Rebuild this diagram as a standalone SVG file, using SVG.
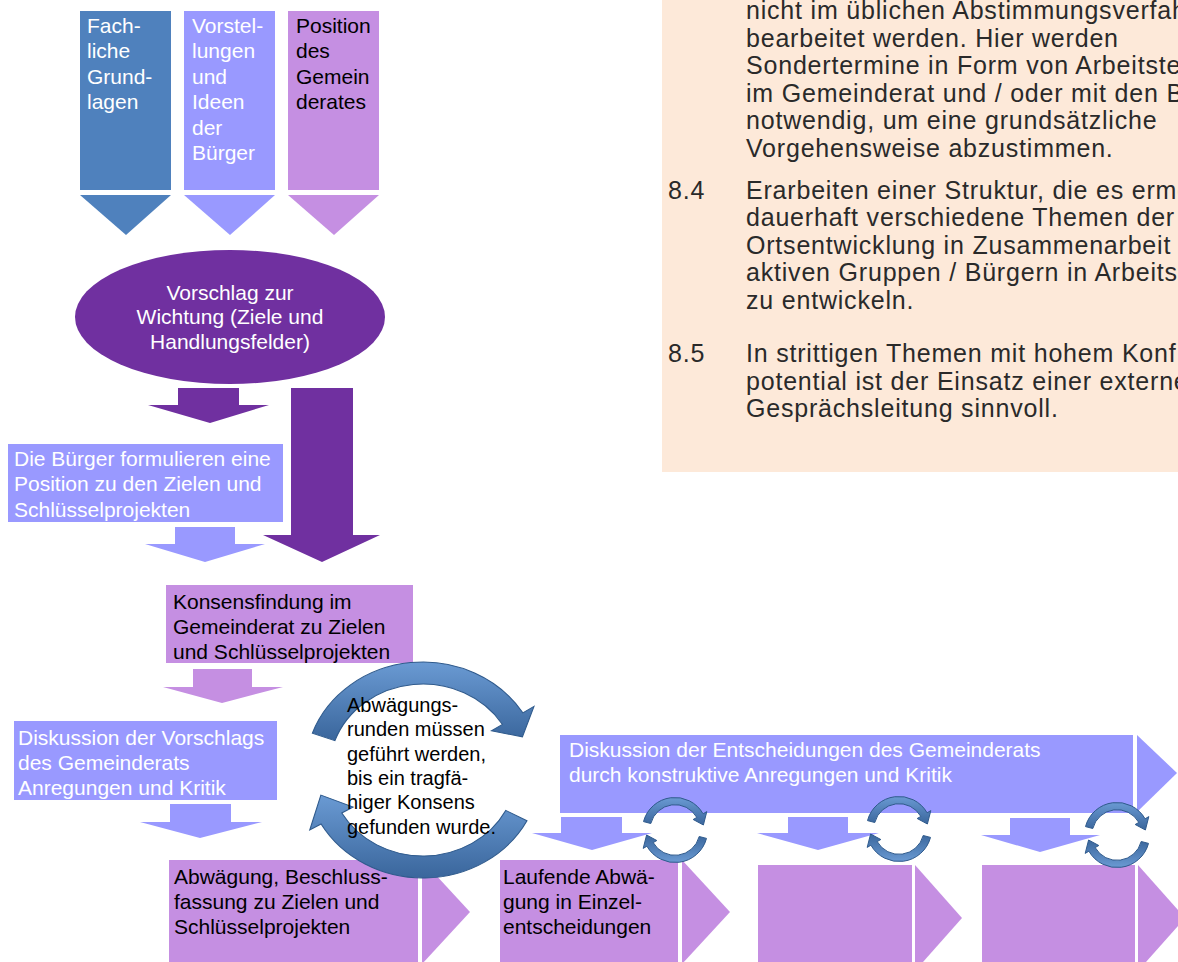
<svg xmlns="http://www.w3.org/2000/svg" width="1178" height="962" viewBox="0 0 1178 962">
<style>
.blue{fill:#4F81BD}.lav{fill:#9999FF}.pur{fill:#C58FE2}.dp{fill:#7030A0}
.t{font-family:"Liberation Sans",Arial,sans-serif;font-size:21px}
.c{font-family:"Liberation Sans",Arial,sans-serif;font-size:20px;fill:#000}
.p{font-family:"Liberation Sans",Arial,sans-serif;font-size:25px;letter-spacing:0.8px;fill:#2a2a2a}
.w{fill:#fff}.k{fill:#000}
.cyc{fill:url(#g);stroke:#2F5A8C;stroke-width:1}
</style>
<defs>
<linearGradient id="g" x1="0" y1="0" x2="0" y2="1">
<stop offset="0" stop-color="#6A9AD3"/><stop offset="1" stop-color="#3A669C"/>
</linearGradient>
<path id="sa" d="M-31.5,-8.4 A32.5,32.5 0 0 1 28.1,-16.2 L31.8,-18.4 L28.4,-5 L18.2,-10.5 L21.8,-12.6 A25,25 0 0 0 -24.2,-6.5 Z"/>
</defs>
<rect x="0" y="0" width="1178" height="962" fill="#fff"/>

<g id="n-textpanel">
<rect x="662" y="0" width="516" height="472" fill="#FDE9D9"/>
<text class="p" x="746" y="19">nicht im üblichen Abstimmungsverfah</text>
<text class="p" x="746" y="47">bearbeitet werden. Hier werden</text>
<text class="p" x="746" y="74">Sondertermine in Form von Arbeitste</text>
<text class="p" x="746" y="102">im Gemeinderat und / oder mit den B</text>
<text class="p" x="746" y="129">notwendig, um eine grundsätzliche</text>
<text class="p" x="746" y="157">Vorgehensweise abzustimmen.</text>
<text class="p" x="668" y="199">8.4</text>
<text class="p" x="746" y="199">Erarbeiten einer Struktur, die es ermö</text>
<text class="p" x="746" y="226">dauerhaft verschiedene Themen der</text>
<text class="p" x="746" y="254">Ortsentwicklung in Zusammenarbeit</text>
<text class="p" x="746" y="281">aktiven Gruppen / Bürgern in Arbeitsr</text>
<text class="p" x="746" y="309">zu entwickeln.</text>
<text class="p" x="668" y="362">8.5</text>
<text class="p" x="746" y="362">In strittigen Themen mit hohem Konf</text>
<text class="p" x="746" y="390">potential ist der Einsatz einer externe</text>
<text class="p" x="746" y="417">Gesprächsleitung  sinnvoll.</text>
</g>

<g id="n-fach">
<rect class="blue" x="80" y="11" width="91" height="179"/>
<text class="t w" x="87" y="33">Fach-</text><text class="t w" x="87" y="58">liche</text>
<text class="t w" x="87" y="84">Grund-</text><text class="t w" x="87" y="109">lagen</text>
</g>
<g id="n-vorstellungen">
<rect class="lav" x="184" y="11" width="91" height="179"/>
<text class="t w" x="192" y="33">Vorstel-</text><text class="t w" x="192" y="58">lungen</text>
<text class="t w" x="192" y="84">und</text><text class="t w" x="192" y="109">Ideen</text>
<text class="t w" x="192" y="135">der</text><text class="t w" x="192" y="160">Bürger</text>
</g>
<g id="n-position">
<rect class="pur" x="288" y="11" width="91" height="179"/>
<text class="t k" x="296" y="33">Position</text><text class="t k" x="296" y="58">des</text>
<text class="t k" x="296" y="84">Gemein</text><text class="t k" x="296" y="109">derates</text>
</g>

<g id="connectors">
<polygon class="blue" points="80,195 171,195 126,235"/>
<polygon class="lav" points="184,195 275,195 230,235"/>
<polygon class="pur" points="288,195 379,195 334,235"/>
<polygon class="dp" points="178,388 239,388 239,405 269,405 210,423 148,405 178,405"/>
<polygon class="dp" points="291,388 353,388 353,535 380,535 322,562 263,535 291,535"/>
<polygon class="lav" points="175,527 235,527 235,544 265,544 205,562 145,544 175,544"/>
<polygon class="pur" points="193,669 252,669 252,687 283,687 222,703 163,687 193,687"/>
<polygon class="lav" points="170,804 231,804 231,822 262,822 200,838 140,822 170,822"/>
<polygon class="lav" points="561,817 622,817 622,833 652,833 592,850 532,833 561,833"/>
<polygon class="lav" points="788,817 848,817 848,833 879,833 818,850 757,833 788,833"/>
<polygon class="lav" points="1010,818 1070,818 1070,835 1100,835 1040,852 981,835 1010,835"/>
</g>

<g id="n-vorschlag">
<ellipse class="dp" cx="230" cy="317" rx="155" ry="67"/>
<text class="t w" x="230" y="300" text-anchor="middle">Vorschlag zur</text>
<text class="t w" x="230" y="324" text-anchor="middle">Wichtung (Ziele und</text>
<text class="t w" x="230" y="349" text-anchor="middle">Handlungsfelder)</text>
</g>
<g id="n-buerger">
<rect class="lav" x="8" y="444" width="275" height="78"/>
<text class="t w" x="14" y="466">Die Bürger formulieren eine</text>
<text class="t w" x="14" y="491">Position zu den Zielen und</text>
<text class="t w" x="14" y="517">Schlüsselprojekten</text>
</g>
<g id="n-konsens">
<rect class="pur" x="166" y="585" width="247" height="78"/>
<text class="t k" x="173" y="609">Konsensfindung im</text>
<text class="t k" x="173" y="634">Gemeinderat zu Zielen</text>
<text class="t k" x="173" y="659">und Schlüsselprojekten</text>
</g>
<g id="n-diskussion">
<rect class="lav" x="14" y="721" width="263" height="79"/>
<text class="t w" x="18" y="745">Diskussion der Vorschlags</text>
<text class="t w" x="18" y="770">des Gemeinderats</text>
<text class="t w" x="18" y="795">Anregungen und Kritik</text>
</g>
<g id="n-abwaegung">
<rect class="pur" x="169" y="860" width="249" height="110"/>
<polygon class="pur" points="422,860 470,912 422,964"/>
<text class="t k" x="174" y="884">Abwägung, Beschluss-</text>
<text class="t k" x="174" y="909">fassung zu Zielen und</text>
<text class="t k" x="174" y="934">Schlüsselprojekten</text>
</g>
<g id="n-laufende">
<rect class="pur" x="500" y="860" width="178" height="110"/>
<polygon class="pur" points="682,860 730,912 682,964"/>
<text class="t k" x="503" y="884">Laufende Abwä-</text>
<text class="t k" x="503" y="909">gung in Einzel-</text>
<text class="t k" x="503" y="934">entscheidungen</text>
</g>
<g id="n-step3">
<rect class="pur" x="758" y="865" width="154" height="105"/>
<polygon class="pur" points="915,865 962,918 915,971"/>
</g>
<g id="n-step4">
<rect class="pur" x="982" y="865" width="153" height="105"/>
<polygon class="pur" points="1138,865 1185,918 1138,971"/>
</g>
<g id="n-entscheidungen">
<rect class="lav" x="560" y="735" width="573" height="78"/>
<polygon class="lav" points="1137,735 1177,773 1137,812"/>
<text class="t w" x="569" y="757">Diskussion der Entscheidungen des Gemeinderats</text>
<text class="t w" x="569" y="782">durch konstruktive Anregungen und Kritik</text>
</g>

<g id="n-zyklus">
<g transform="translate(423,770) scale(1.09,1)">
<path class="cyc" d="M-101.5,-36.9 A108,108 0 0 1 91.6,-57.2 L101.8,-63.6 L91.2,-33.2 L62.8,-39.2 L72.9,-45.6 A86,86 0 0 0 -80.8,-29.4 Z"/>
<path class="cyc" d="M95.4,50.7 A108,108 0 0 1 -93.5,54 L-103.9,60 L-93.7,25.1 L-64.1,37 L-74.5,43 A86,86 0 0 0 75.9,40.4 Z"/>
</g>
<text class="c" x="347" y="712">Abwägungs-</text>
<text class="c" x="347" y="736">runden müssen</text>
<text class="c" x="347" y="761">geführt werden,</text>
<text class="c" x="347" y="785">bis ein tragfä-</text>
<text class="c" x="347" y="809">higer Konsens</text>
<text class="c" x="347" y="834">gefunden wurde.</text>
</g>
<g id="n-kreis1" transform="translate(675,830)">
<use href="#sa" class="cyc"/><use href="#sa" class="cyc" transform="rotate(180)"/>
</g>
<g id="n-kreis2" transform="translate(899,829)">
<use href="#sa" class="cyc"/><use href="#sa" class="cyc" transform="rotate(180)"/>
</g>
<g id="n-kreis3" transform="translate(1117,835)">
<use href="#sa" class="cyc"/><use href="#sa" class="cyc" transform="rotate(180)"/>
</g>
</svg>
